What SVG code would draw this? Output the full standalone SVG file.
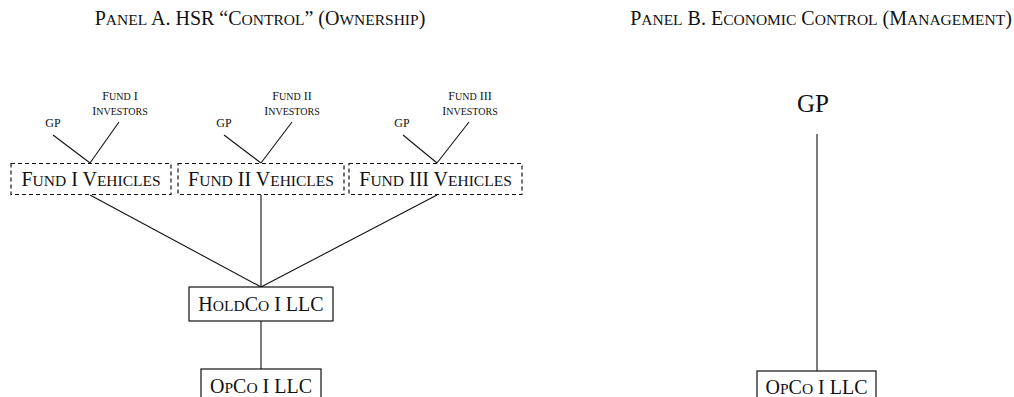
<svg xmlns="http://www.w3.org/2000/svg" width="1014" height="397" viewBox="0 0 1014 397">
<style>
text{font-family:"Liberation Serif","Times New Roman",serif;fill:#111;}
.t{font-size:20px;text-anchor:middle;}
.t .s{font-size:15.5px;}
.l{font-size:12px;text-anchor:middle;}
.l .s{font-size:10px;}
.box{fill:#fff;stroke:#111;stroke-width:1.2;}
.dash{fill:#fff;stroke:#111;stroke-width:1.2;stroke-dasharray:4 3;}
.c line{stroke:#111;stroke-width:1.1;}
</style>
<rect width="1014" height="397" fill="#fff"/>
<g id="titles">
<text class="t" x="260" y="25">P<tspan class="s">ANEL</tspan> A. HSR “C<tspan class="s">ONTROL</tspan>” (O<tspan class="s">WNERSHIP</tspan>)</text>
<text class="t" x="821" y="25">P<tspan class="s">ANEL</tspan> B. E<tspan class="s">CONOMIC</tspan> C<tspan class="s">ONTROL</tspan> (M<tspan class="s">ANAGEMENT</tspan>)</text>
</g>
<g id="connectors" class="c">
<line x1="53" y1="135" x2="90" y2="163"/>
<line x1="119" y1="122" x2="90" y2="163"/>
<line x1="224" y1="135" x2="261" y2="163"/>
<line x1="292" y1="122" x2="261" y2="163"/>
<line x1="403" y1="135" x2="437" y2="163"/>
<line x1="469" y1="122" x2="437" y2="163"/>
<line x1="90" y1="195" x2="261" y2="287"/>
<line x1="261" y1="195" x2="261" y2="287"/>
<line x1="437" y1="195" x2="261" y2="287"/>
<line x1="261" y1="321" x2="261" y2="369"/>
<line x1="817" y1="134" x2="817" y2="371"/>
</g>
<g id="gp1"><text class="l" x="53" y="127">GP</text></g>
<g id="inv1"><text class="l" x="120" y="100">F<tspan class="s">UND</tspan> I</text><text class="l" x="120" y="115">I<tspan class="s">NVESTORS</tspan></text></g>
<g id="gp2"><text class="l" x="224" y="127">GP</text></g>
<g id="inv2"><text class="l" x="292" y="100">F<tspan class="s">UND</tspan> II</text><text class="l" x="292" y="115">I<tspan class="s">NVESTORS</tspan></text></g>
<g id="gp3"><text class="l" x="402" y="127">GP</text></g>
<g id="inv3"><text class="l" x="470" y="100">F<tspan class="s">UND</tspan> III</text><text class="l" x="470" y="115">I<tspan class="s">NVESTORS</tspan></text></g>
<g id="fund1"><rect class="dash" x="11" y="163.5" width="160" height="31"/><text class="t" x="91" y="186">F<tspan class="s">UND</tspan> I V<tspan class="s">EHICLES</tspan></text></g>
<g id="fund2"><rect class="dash" x="178" y="163.5" width="166" height="31"/><text class="t" x="261" y="186">F<tspan class="s">UND</tspan> II V<tspan class="s">EHICLES</tspan></text></g>
<g id="fund3"><rect class="dash" x="349" y="163.5" width="173" height="31"/><text class="t" x="435.5" y="186">F<tspan class="s">UND</tspan> III V<tspan class="s">EHICLES</tspan></text></g>
<g id="holdco"><rect class="box" x="189" y="287" width="144" height="34"/><text class="t" x="261" y="311">H<tspan class="s">OLD</tspan>C<tspan class="s">O</tspan> I LLC</text></g>
<g id="opcoA"><rect class="box" x="201" y="369" width="120" height="40"/><text class="t" x="261" y="393">O<tspan class="s">P</tspan>C<tspan class="s">O</tspan> I LLC</text></g>
<g id="gpB"><text x="813" y="112" style="font-size:25px;text-anchor:middle">GP</text></g>
<g id="opcoB"><rect class="box" x="757" y="371" width="119" height="40"/><text class="t" x="816.5" y="394">O<tspan class="s">P</tspan>C<tspan class="s">O</tspan> I LLC</text></g>
</svg>
